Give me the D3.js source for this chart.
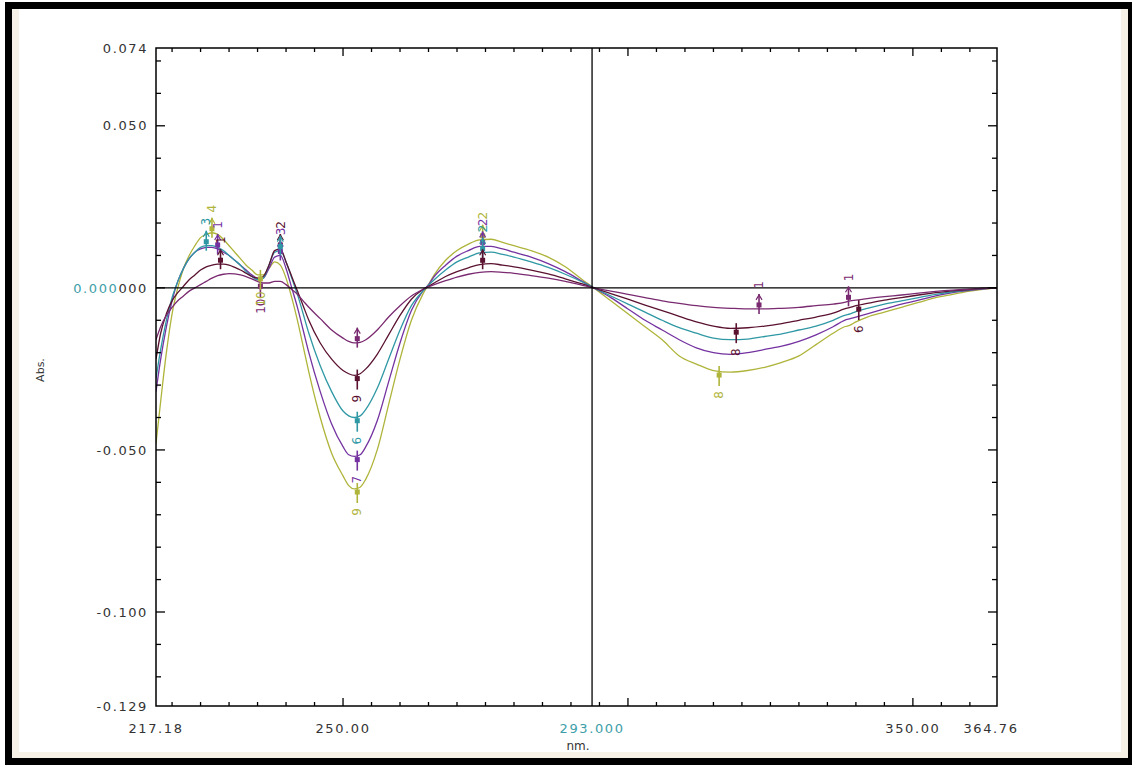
<!DOCTYPE html>
<html><head><meta charset="utf-8">
<script src="https://cdn.jsdelivr.net/npm/d3@7"></script>
<style>
html,body{margin:0;padding:0;background:#fff;}
svg{display:block;}
</style></head><body>
<svg id="c" width="1132" height="765"></svg>
<script>
// ---------------- data ----------------
const wavelengths = [217.18,218,219,220,221,222,223,224,225,226,227,228,229,230,231,232,233,234,235,236,237,238,239,240,241,242,243,244,246,248,250,251,252,253,254,256,258,260,262,264,265,266,268,270,272,274,276,278,280,283,286,289,292,294,297,300,303,306,309,312,315,318,321,324,327,330,333,336,338,339,340,342,345,348,351,354,357,360,362,364.76];
// absorbance, in units of 0.001 Abs
const absYellow  = [-48,-35,-20,-8,0,6,10,13,15.5,16.5,17,16.5,15,13,11,9,7,5.5,4,4,6,8,7,3,-3,-10,-18,-26,-40,-51,-58,-61,-62,-61.5,-59,-50,-36,-22,-10,-2,1,4,8.5,11.5,13.5,14.8,15,14,13,11.5,9.5,6.5,2.5,0,-4,-8,-12,-16,-21,-23.5,-25.5,-26,-25.5,-24.5,-23,-21,-17.5,-14,-12,-11.5,-10.5,-9,-7.5,-6,-4.5,-3,-2,-1,-0.5,0];
const absPurple  = [-32,-22,-12,-4,2,6,9,11,12,12.5,12.5,12,11,10,8.5,7,5.5,4,3,3,6,9.5,10,6,0,-6,-13,-20,-32,-42,-49,-51.5,-52,-51.5,-49,-41,-29,-17,-7,-1,1,3.5,7,9.8,11.5,12.8,12.8,12,11,9.5,7.5,5,2,0,-3,-6.5,-10,-13,-16,-18.5,-20,-20.5,-20,-19,-18,-16.5,-14.5,-12,-10,-9.5,-9,-8,-6.5,-5,-3.8,-2.5,-1.5,-0.8,-0.4,0];
const absTeal    = [-28,-19,-10,-3,2,6,9,11,12.5,13,13,12.5,11.5,10,8.5,7,5,3.5,2.5,3,7,11,11.5,8,3,-2,-8,-14,-24,-32,-38,-39.5,-40,-39.5,-37.5,-31,-22,-13,-5.5,-1,0.8,2.5,5.5,8,9.5,10.8,11,10.3,9.5,8,6.3,4.2,1.8,0,-2.5,-5,-7.5,-10,-12.3,-14,-15.5,-16,-15.8,-15,-14.2,-13,-11.8,-10,-8.5,-8,-7.3,-6.3,-5,-4,-3,-2,-1.2,-0.6,-0.3,0];
const absMaroon  = [-22,-14,-8,-4,-1.5,0.5,2.5,4,5.5,6.5,7,7.3,7.3,7,6.3,5.5,4.5,3.5,3,3.5,7,11.5,12,8,3.5,-1,-5.5,-10,-17,-22,-25.5,-26.5,-27,-26.5,-25,-20.5,-14.5,-8.5,-3.5,-0.5,0.5,1.5,3.5,5,6.2,7.2,7.5,7,6.5,5.5,4.3,2.8,1.2,0,-1.8,-3.5,-5.3,-7,-8.8,-10.5,-11.8,-12.5,-12.3,-11.8,-11,-10,-9,-7.8,-6.5,-6,-5.5,-4.8,-3.8,-3,-2.2,-1.5,-0.9,-0.5,-0.2,0];
const absMagenta = [-16,-12,-8.5,-6,-4,-2.5,-1,0,1,2,3,3.8,4.2,4.4,4.3,4,3.5,2.8,2,1.5,1.5,2,2,1,-0.5,-2,-4,-6,-9.5,-13,-15.5,-16.5,-17,-16.8,-16,-13,-9,-5.5,-2.5,-0.5,0.3,1,2.2,3.3,4.2,4.8,5,4.8,4.5,3.8,3,2,0.8,0,-1,-2,-3,-4,-4.8,-5.5,-6,-6.3,-6.5,-6.5,-6.3,-6,-5.5,-5,-4.5,-4,-3.8,-3.3,-2.7,-2.2,-1.6,-1.1,-0.7,-0.4,-0.2,0];

const seriesValues = [absYellow, absPurple, absTeal, absMaroon, absMagenta];
const seriesColors = ["#afb43a", "#7432a0", "#2f98a4", "#5a1230", "#7a2a70"];

const xTickValues = [217.18, 250, 293.7, 350, 364.76];
const xTickLabels = ["217.18", "250.00", "293.000", "350.00", "364.76"];
const yTickValues = [0.074, 0.050, 0.000, -0.050, -0.100, -0.129];
const yTickLabels = ["0.074", "0.050", "0.000000", "-0.050", "-0.100", "-0.129"];
const cursorNm = 293.7;
const cursorAbs = 0;

// peak-pick markers: series index, wavelength, label, side (-1 above, 1 below)
const peakSeries = [0, 2, 1, 3, 4, 0, 3, 1, 2, 0, 1, 2, 3, 4, 3, 2, 1, 0, 0, 3, 4, 4, 3];
const peakNm     = [227, 226, 228, 228.5, 235.5, 235.5, 239, 239, 239, 274.5, 274.5, 274.5, 274.5, 252.5, 252.5, 252.5, 252.5, 252.5, 316, 319, 323, 338.7, 340.5];
const peakLabel  = ["4", "3", "1", "1", "10", "10", "2", "3", "", "2", "2", "2", "", "", "9", "6", "7", "9", "8", "8", "1", "1", "6"];
const peakSide   = [-1, -1, -1, -1, 1, 1, -1, -1, -1, -1, -1, -1, -1, -1, 1, 1, 1, 1, 1, 1, -1, -1, 1];

// ---------------- drawing ----------------
const svg = d3.select("#c");
const W = 1132, H = 765;
const L = 156, R = 997, T = 48, B = 706;
const x = d3.scaleLinear().domain([217.18, 364.76]).range([L, R]);
const y = d3.scaleLinear().domain([-0.129, 0.074]).range([B, T]);
const FONT = "'DejaVu Sans', Verdana, sans-serif";

svg.append("rect").attr("width", W).attr("height", H).attr("fill", "#ffffff");
// faint beige inner edges
svg.append("rect").attr("x", 12).attr("y", 9).attr("width", 7).attr("height", 750).attr("fill", "#f6f2e8");
svg.append("rect").attr("x", 1121).attr("y", 9).attr("width", 7).attr("height", 750).attr("fill", "#f6f2e8");
svg.append("rect").attr("x", 12).attr("y", 752).attr("width", 1116).attr("height", 7).attr("fill", "#f6f2e8");

const clip = svg.append("clipPath").attr("id", "pc").append("rect")
  .attr("x", L).attr("y", T).attr("width", R - L).attr("height", B - T);

// curves
const line = d3.line()
  .x((d, i) => x(wavelengths[i]))
  .y(d => y(d / 1000))
  .curve(d3.curveMonotoneX);

const plot = svg.append("g").attr("clip-path", "url(#pc)");
// draw from smallest amplitude last? draw yellow first
seriesValues.forEach((vals, si) => {
  plot.append("path").datum(vals)
    .attr("d", line)
    .attr("fill", "none")
    .attr("stroke", seriesColors[si])
    .attr("stroke-width", 1.3);
});

// cursor lines
svg.append("line").attr("x1", L).attr("x2", R).attr("y1", y(cursorAbs)).attr("y2", y(cursorAbs))
  .attr("stroke", "#000").attr("stroke-width", 1.3);
svg.append("line").attr("x1", x(cursorNm)).attr("x2", x(cursorNm)).attr("y1", T).attr("y2", B)
  .attr("stroke", "#000").attr("stroke-width", 1.3);

// peak markers
function valAt(si, nm) {
  const vals = seriesValues[si];
  const i = d3.bisectLeft(wavelengths, nm);
  if (i <= 0) return vals[0];
  if (i >= wavelengths.length) return vals[vals.length - 1];
  const x0 = wavelengths[i - 1], x1 = wavelengths[i];
  const t = (nm - x0) / (x1 - x0);
  return vals[i - 1] + t * (vals[i] - vals[i - 1]);
}
const mk = svg.append("g");
peakSeries.forEach((si, k) => {
  const px = x(peakNm[k]);
  const py = y(valAt(si, peakNm[k]) / 1000);
  const s = peakSide[k];
  const col = seriesColors[si];
  mk.append("line").attr("x1", px).attr("x2", px).attr("y1", py - s * 5).attr("y2", py + s * 15)
    .attr("stroke", col).attr("stroke-width", 1.6);
  mk.append("rect").attr("x", px - 2.5).attr("y", py + s * 4 - 2.5).attr("width", 5).attr("height", 5)
    .attr("fill", col);
  if (s < 0) {
    mk.append("path").attr("d", `M${px - 3},${py - 9} L${px},${py - 14} L${px + 3},${py - 9}`)
      .attr("fill", "none").attr("stroke", col).attr("stroke-width", 1.2);
  }
  if (peakLabel[k]) {
    const ly = py + s * 24;
    mk.append("text")
      .attr("transform", `translate(${px},${ly}) rotate(-90)`)
      .attr("text-anchor", "middle").attr("dy", "0.35em")
      .attr("font-family", FONT).attr("font-size", 12)
      .attr("fill", col).text(peakLabel[k]);
  }
});

// axes frame
svg.append("rect").attr("x", L).attr("y", T).attr("width", R - L).attr("height", B - T)
  .attr("fill", "none").attr("stroke", "#000").attr("stroke-width", 1.5);

// x ticks (minor every 5 nm, major every 50 nm)
const ax = svg.append("g").attr("stroke", "#000").attr("stroke-width", 1.3);
d3.range(220, 365, 5).forEach(v => {
  const len = (v % 50 === 0) ? 8 : 4;
  const px = x(v);
  ax.append("line").attr("x1", px).attr("x2", px).attr("y1", B).attr("y2", B - len);
  ax.append("line").attr("x1", px).attr("x2", px).attr("y1", T).attr("y2", T + len);
});
// y ticks (minor every 0.010, major every 0.050)
d3.range(-12, 8, 1).forEach(k => {
  const v = k / 100;
  const len = (k % 5 === 0) ? 9 : 5;
  const py = y(v);
  ax.append("line").attr("x1", L).attr("x2", L + len).attr("y1", py).attr("y2", py);
  ax.append("line").attr("x1", R).attr("x2", R - len).attr("y1", py).attr("y2", py);
});

// tick labels
const lab = svg.append("g").attr("font-family", FONT).attr("font-size", 13).attr("fill", "#333")
  .attr("letter-spacing", "1.6px");
xTickValues.forEach((v, i) => {
  const t = lab.append("text").attr("x", x(v) + (i === 4 ? -6 : 0)).attr("y", 733)
    .attr("text-anchor", "middle").text(xTickLabels[i]);
  if (v === cursorNm) t.attr("fill", "#3d9ea8");
});
yTickValues.forEach((v, i) => {
  const t = lab.append("text").attr("x", 148).attr("y", y(v)).attr("dy", "0.36em")
    .attr("text-anchor", "end");
  if (v === cursorAbs) {
    t.append("tspan").attr("fill", "#3d9ea8").text(yTickLabels[i].slice(0, 5));
    t.append("tspan").attr("fill", "#333").text(yTickLabels[i].slice(5));
  } else {
    t.text(yTickLabels[i]);
  }
});

// axis titles
svg.append("text").attr("x", 578).attr("y", 750).attr("text-anchor", "middle")
  .attr("font-family", FONT).attr("font-size", 12).attr("fill", "#333").text("nm.");
svg.append("text").attr("transform", "translate(44,370) rotate(-90)").attr("text-anchor", "middle")
  .attr("font-family", FONT).attr("font-size", 11).attr("fill", "#333").text("Abs.");

// outer black frame
svg.append("rect").attr("x", 8.5).attr("y", 5.5).attr("width", 1123).attr("height", 756)
  .attr("fill", "none").attr("stroke", "#000").attr("stroke-width", 7);
</script>
</body></html>
